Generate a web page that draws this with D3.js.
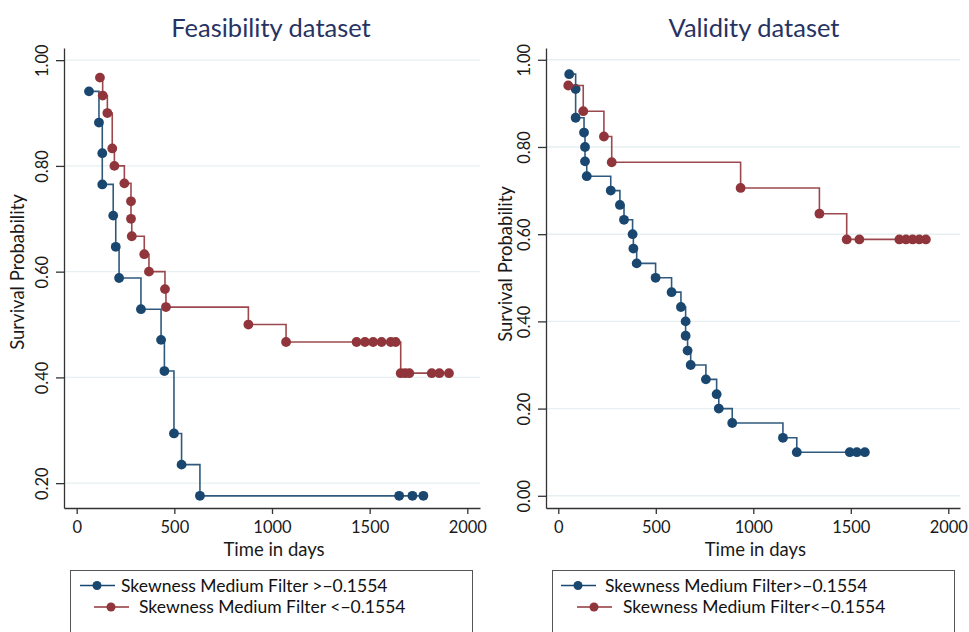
<!DOCTYPE html>
<html>
<head>
<meta charset="utf-8">
<script src="https://cdn.jsdelivr.net/npm/d3@7"></script>
<style>
  body { margin: 0; background: #fff; }
  svg { display: block; font-family: Lato, "Noto Sans", sans-serif; }
</style>
</head>
<body>
<svg width="969" height="632"></svg>
<script>
// Feasibility dataset, Kaplan-Meier points (time in days, survival)
var feasHighTime = [63,114,131,131,187,200,217,329,432,449,498,537,631,1651,1719,1775];
var feasHighSurv = [0.941,0.882,0.824,0.765,0.706,0.647,0.588,0.529,0.471,0.412,0.294,0.235,0.176,0.176,0.176,0.176];
var feasLowTime  = [119,133,157,182,193,244,278,278,282,346,370,452,457,879,1072,1433,1476,1518,1561,1608,1633,1659,1681,1703,1818,1857,1906];
var feasLowSurv  = [0.967,0.933,0.900,0.833,0.800,0.767,0.733,0.700,0.667,0.633,0.600,0.567,0.533,0.500,0.467,0.467,0.467,0.467,0.467,0.467,0.467,0.408,0.408,0.408,0.408,0.408,0.408];

// Validity dataset
var valHighTime = [56,89,89,132,137,137,146,269,316,337,381,385,402,499,581,629,653,653,663,679,757,812,823,892,1152,1223,1495,1531,1572];
var valHighSurv = [0.967,0.933,0.867,0.833,0.800,0.767,0.733,0.700,0.667,0.633,0.600,0.567,0.533,0.500,0.467,0.433,0.400,0.367,0.333,0.300,0.267,0.233,0.200,0.167,0.133,0.100,0.100,0.100,0.100];
var valLowTime  = [51,128,234,274,935,1339,1479,1544,1749,1783,1817,1851,1885];
var valLowSurv  = [0.941,0.882,0.824,0.765,0.706,0.647,0.588,0.588,0.588,0.588,0.588,0.588,0.588];

var xTicks = [0,500,1000,1500,2000];
var feasYTicks = [0.2,0.4,0.6,0.8,1.0];
var valYTicks = [0,0.2,0.4,0.6,0.8,1.0];

var blue = "#1a476f", red = "#90353b";
var svg = d3.select("svg");

function zip(t, s){ return t.map(function(d,i){ return {t:d, s:s[i]}; }); }

function drawPanel(p){
  var x = d3.scaleLinear().domain(p.xDomain).range([p.left, p.right]);
  var y = d3.scaleLinear().domain(p.yDomain).range([508, 48]);
  var g = svg.append("g");

  // grid
  g.selectAll(".grid").data(p.yTicks).enter().append("line")
    .attr("x1", p.left).attr("x2", p.right)
    .attr("y1", function(d){ return y(d); }).attr("y2", function(d){ return y(d); })
    .attr("stroke", "#e6eff1").attr("stroke-width", 1.4);

  var yAxis = g.append("g").attr("transform","translate("+p.left+",0)")
    .call(d3.axisLeft(y).tickValues(p.yTicks).tickFormat(d3.format(".2f")).tickSize(8).tickSizeOuter(0));
  yAxis.selectAll("text")
    .attr("x", null).attr("dy", null)
    .attr("text-anchor","middle")
    .attr("transform", "translate(-16,0)rotate(-90)");

  var xAxis = g.append("g").attr("transform","translate(0,508)")
    .call(d3.axisBottom(x).tickValues(xTicks).tickFormat(d3.format("d")).tickSize(6).tickSizeOuter(0));
  xAxis.selectAll("text").attr("y", 13);

  g.selectAll(".domain, .tick line").attr("stroke","#333").attr("stroke-width",1.3);
  g.selectAll(".tick text").attr("fill","#1a1a1a").style("font-size","16.5px").style("font-family","Lato, sans-serif");

  // titles
  svg.append("text").attr("x", p.titleX).attr("y", 37).attr("text-anchor","middle")
    .attr("fill","#273363").style("font-size","25.5px").text(p.title);
  svg.append("text").attr("x", (x(0)+x(2000))/2 + 2).attr("y", 556).attr("text-anchor","middle")
    .attr("fill","#1a1a1a").style("font-size","18.5px").text("Time in days");
  svg.append("text").attr("transform","translate("+p.yTitleX+","+p.yTitleY+")rotate(-90)").attr("text-anchor","middle")
    .attr("fill","#1a1a1a").style("font-size","18.5px").text("Survival Probability");

  var line = d3.line().x(function(d){ return x(d.t); }).y(function(d){ return y(d.s); }).curve(d3.curveStepAfter);

  p.series.forEach(function(s){
    g.append("path").attr("d", line(s.data)).attr("fill","none")
      .attr("stroke", s.color).attr("stroke-width",1.6).attr("stroke-opacity",0.9);
    g.selectAll(null).data(s.data).enter().append("circle")
      .attr("cx", function(d){ return x(d.t); }).attr("cy", function(d){ return y(d.s); })
      .attr("r", 4.9).attr("fill", s.color);
  });

  // legend
  var lg = svg.append("g");
  lg.append("rect").attr("x", p.legX).attr("y", 570.5).attr("width", p.legW).attr("height", 80)
    .attr("fill","none").attr("stroke","#555").attr("stroke-width",1);
  p.series.forEach(function(s, i){
    var ly = i === 0 ? 585.5 : 607;
    lg.append("line").attr("x1", s.lx).attr("x2", s.lx + 35).attr("y1", ly).attr("y2", ly)
      .attr("stroke", s.color).attr("stroke-width",1.6);
    lg.append("circle").attr("cx", s.lx + 17).attr("cy", ly).attr("r", 4.5).attr("fill", s.color);
    lg.append("text").attr("x", s.tx).attr("y", ly + 6).attr("fill","#111")
      .style("font-size","17.5px").text(s.label);
  });
}

drawPanel({
  title: "Feasibility dataset", titleX: 271,
  left: 64, right: 480, xDomain: [-65, 2065], yDomain: [0.153, 1.023],
  yTicks: feasYTicks, yTitleX: 24, yTitleY: 272,
  legX: 70.5, legW: 402,
  series: [
    {data: zip(feasHighTime, feasHighSurv), color: blue, label: "Skewness Medium Filter >\u22120.1554", lx: 80, tx: 121},
    {data: zip(feasLowTime, feasLowSurv), color: red, label: "Skewness Medium Filter <\u22120.1554", lx: 94, tx: 139}
  ]
});

drawPanel({
  title: "Validity dataset", titleX: 754,
  left: 546, right: 960, xDomain: [-63, 2060], yDomain: [-0.028, 1.027],
  yTicks: valYTicks, yTitleX: 512, yTitleY: 264,
  legX: 552.5, legW: 402,
  series: [
    {data: zip(valHighTime, valHighSurv), color: blue, label: "Skewness Medium Filter>\u22120.1554", lx: 561, tx: 605},
    {data: zip(valLowTime, valLowSurv), color: red, label: "Skewness Medium Filter<\u22120.1554", lx: 577, tx: 623}
  ]
});
</script>
</body>
</html>
